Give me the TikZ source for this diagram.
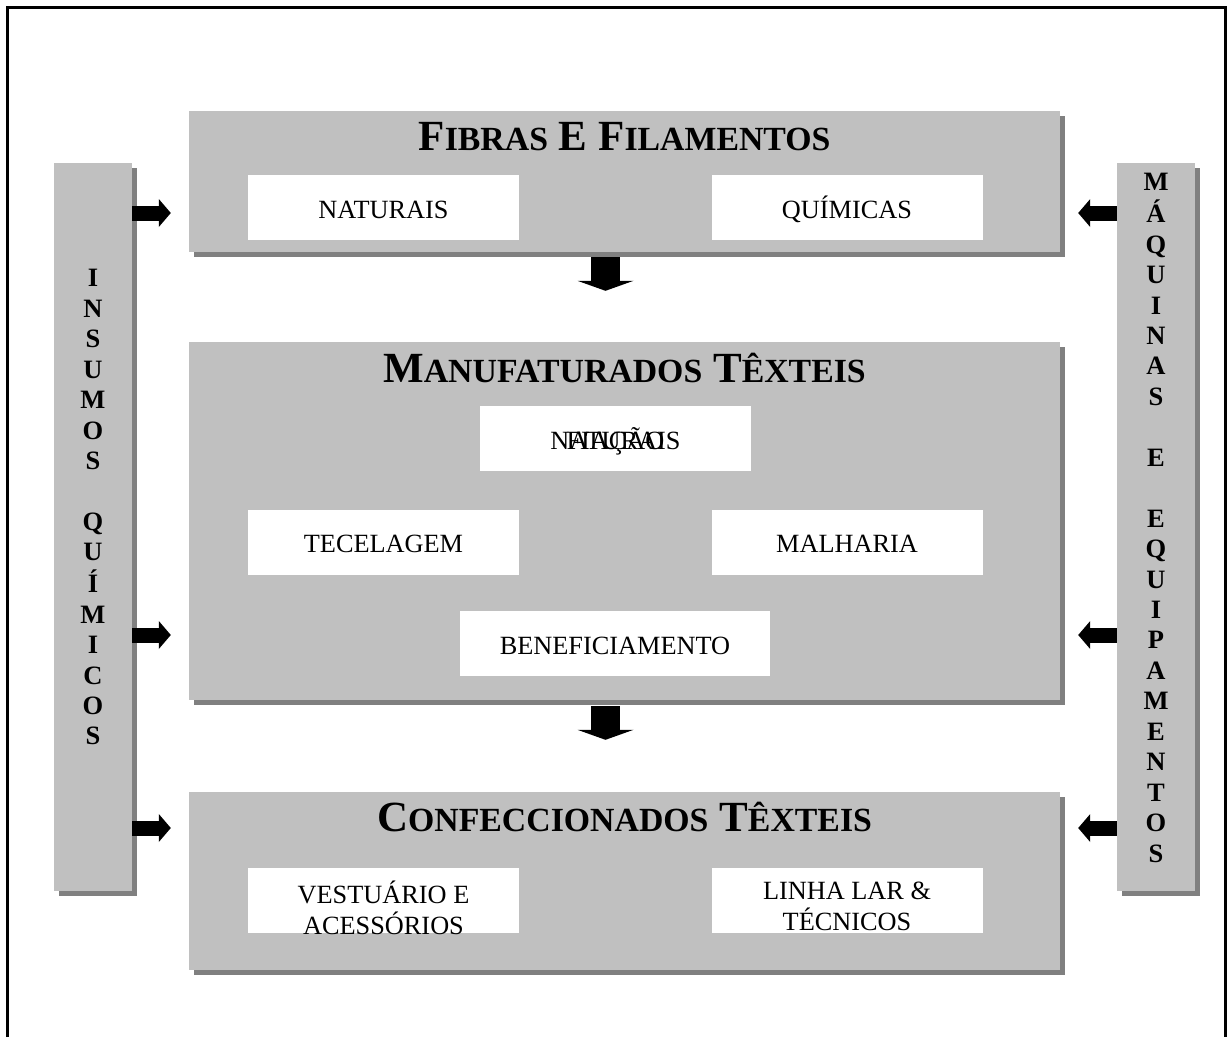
\documentclass[tikz,border=0pt]{standalone}
\usepackage{fontspec}
\setmainfont{Liberation Serif}
\usetikzlibrary{shadows,arrows.meta}
\definecolor{panelgray}{HTML}{C0C0C0}
\definecolor{shadegray}{HTML}{808080}
% large initial capital + reduced capitals for the headings
\newcommand\smallcap[1]{{\fontsize{33.8}{40}\selectfont #1}}
% one centred column of lines, baseline on the first line
\newcommand\stacklines[1]{\begin{tabular}[t]{@{}c@{}}#1\end{tabular}}

\begin{document}
\begin{tikzpicture}[x=1pt,y=-1pt,
  panel/.style={fill=panelgray, draw=none, inner sep=0pt,
    drop shadow={shadow xshift=5pt, shadow yshift=-5pt, fill=shadegray, opacity=1}},
  whitebox/.style={fill=white, inner sep=0pt, minimum width=271pt, minimum height=65pt,
    text height=21pt, text depth=0pt, font=\fontsize{26.3}{29}\selectfont},
  labeltext/.style={inner sep=0pt, text height=21pt, text depth=0pt,
    font=\fontsize{26.3}{29}\selectfont},
  heading/.style={anchor=base, inner sep=0pt, font=\fontsize{43}{50}\selectfont\bfseries},
  vertical/.style={anchor=base, inner sep=0pt, font=\fontsize{26.5}{30.45}\selectfont\bfseries},
  sidearrow/.style={line width=15pt, -{Triangle[width=28pt,length=12pt,line width=0pt]}},
  downarrow/.style={line width=29pt, -{Triangle[width=56pt,length=10pt,line width=0pt]}},
]
\fill[white] (0,0) rectangle (1229,1037);
\useasboundingbox (0,0) rectangle (1229,1037);

% open frame
\draw[line width=3pt] (7,1037) -- (7,7) -- (1225.5,7) -- (1225.5,1037);

% side columns
\node[panel, minimum width=78pt, minimum height=728pt] (insumos) at (93,527) {};
\node[panel, minimum width=78pt, minimum height=728pt] (maquinas) at (1156,527) {};
\node[vertical] (insumoslbl) at (93,286.8)
  {\stacklines{I\\N\\S\\U\\M\\O\\S\\ \\Q\\U\\Í\\M\\I\\C\\O\\S}};
\node[vertical] (maquinaslbl) at (1156,190.8)
  {\stacklines{M\\Á\\Q\\U\\I\\N\\A\\S\\ \\E\\ \\E\\Q\\U\\I\\P\\A\\M\\E\\N\\T\\O\\S}};

% main panels
\node[panel, minimum width=871pt, minimum height=141pt] (fibras) at (624.5,181.5) {};
\node[panel, minimum width=871pt, minimum height=358pt] (manuf) at (624.5,521) {};
\node[panel, minimum width=871pt, minimum height=178pt] (confec) at (624.5,881) {};

\node[heading] (fibrastitle) at ([yshift=-40pt]fibras.north)
  {F\smallcap{IBRAS} E F\smallcap{ILAMENTOS}};
\node[heading] (manuftitle) at ([yshift=-41pt]manuf.north)
  {M\smallcap{ANUFATURADOS} T\smallcap{ÊXTEIS}};
\node[heading] (confectitle) at ([yshift=-40pt]confec.north)
  {C\smallcap{ONFECCIONADOS} T\smallcap{ÊXTEIS}};

% inner boxes
\node[whitebox] (naturais) at (383.5,207.5) {NATURAIS};
\node[whitebox] (quimicas) at (847,207.5) {QUÍMICAS};
\node[whitebox] (fiacao) at (615.5,438.5) {NATURAIS};
\node[labeltext] (fiacaolbl) at (fiacao.center) {FIAÇÃO};
\node[whitebox] (tecelagem) at (383.5,542) {TECELAGEM};
\node[whitebox] (malharia) at (847,542) {MALHARIA};
\node[whitebox, minimum width=310pt] (benef) at (615,643.5) {BENEFICIAMENTO};
\node[whitebox, text depth=16pt] (vestuario) at (383.5,900.5)
  {\stacklines{VESTUÁRIO E\\ACESSÓRIOS}};
\node[whitebox, text depth=24pt] (linhalar) at (847,900.5)
  {\stacklines{LINHA LAR \&\\TÉCNICOS}};

% arrow rows
\coordinate (rowtop) at (0,213);
\coordinate (rowmid) at (0,635);
\coordinate (rowbot) at (0,828);
\coordinate (lefttip) at ([xshift=-18pt]fibras.west);
\coordinate (righttip) at ([xshift=18pt]fibras.east);

\draw[sidearrow] (insumos.east |- rowtop) -- (lefttip |- rowtop);
\draw[sidearrow] (insumos.east |- rowmid) -- (lefttip |- rowmid);
\draw[sidearrow] (insumos.east |- rowbot) -- (lefttip |- rowbot);
\draw[sidearrow] (maquinas.west |- rowtop) -- (righttip |- rowtop);
\draw[sidearrow] (maquinas.west |- rowmid) -- (righttip |- rowmid);
\draw[sidearrow] (maquinas.west |- rowbot) -- (righttip |- rowbot);

\draw[downarrow] ([xshift=-19pt,yshift=-5pt]fibras.south) -- ([xshift=-19pt,yshift=51pt]manuf.north);
\draw[downarrow] ([xshift=-19pt,yshift=-6pt]manuf.south) -- ([xshift=-19pt,yshift=52pt]confec.north);
\end{tikzpicture}
\end{document}
